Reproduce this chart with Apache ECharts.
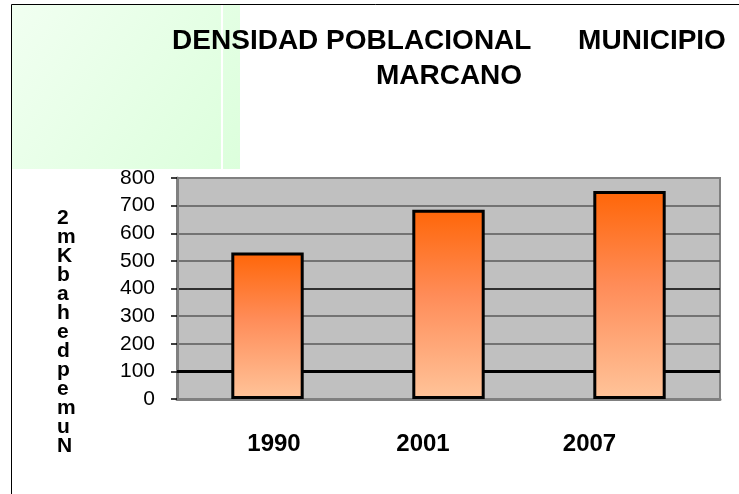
<!DOCTYPE html>
<html>
<head>
<meta charset="utf-8">
<script src="https://cdn.jsdelivr.net/npm/echarts@6/dist/echarts.min.js"></script>
<style>
  html, body { margin: 0; padding: 0; background: #fff; }
  #chart { width: 739px; height: 494px; }
</style>
</head>
<body>
<div id="chart"></div>
<script>
// datos
const years = ['1990', '2001', '2007']
const density = [530, 685, 753]
const yTicks = [0, 100, 200, 300, 400, 500, 600, 700, 800]
const titleLines = ['DENSIDAD POBLACIONAL      MUNICIPIO', 'MARCANO']
// rotulo vertical tal como se ve (letras apiladas, de arriba a abajo)
const yTitleGlyphs = ['2', 'm', 'K', 'b', 'a', 'h', 'e', 'd', 'p', 'e', 'm', 'u', 'N']

const chart = echarts.init(document.getElementById('chart'))

// colores de las lineas de division (0..800)
const splitColors = ['#808080', '#000', '#5a5a5a', '#5a5a5a', '#000', '#5a5a5a', '#5a5a5a', '#5a5a5a', '#808080']
// desplazamientos de las etiquetas del eje x respecto a las barras
const labelPad = {
  '1990': [0, 0, 0, 13],
  '2001': [0, 51, 0, 0],
  '2007': [0, 80, 0, 0]
}

const option = {
  backgroundColor: '#fff',
  animation: false,
  graphic: [
    {
      type: 'rect', z: 0, silent: true,
      shape: { x: 12, y: 5, width: 228, height: 164 },
      style: {
        fill: new echarts.graphic.LinearGradient(0, 0, 1, 1, [
          { offset: 0, color: '#f1fff1' },
          { offset: 1, color: '#dcffdc' }
        ])
      }
    },
    { type: 'rect', z: 1, silent: true, shape: { x: 221, y: 5, width: 2, height: 164 }, style: { fill: '#ffffff' } },
    { type: 'line', z: 5, silent: true, shape: { x1: 11.5, y1: 4.5, x2: 739, y2: 4.5 }, style: { stroke: '#000', lineWidth: 1 } },
    { type: 'line', z: 5, silent: true, shape: { x1: 11.5, y1: 4.5, x2: 11.5, y2: 494 }, style: { stroke: '#000', lineWidth: 1 } },
    {
      type: 'text', z: 5, silent: true,
      style: {
        x: 449, y: 24, text: titleLines.join('\n'),
        align: 'center', verticalAlign: 'top',
        font: 'bold 28px "Liberation Sans", Arial, sans-serif',
        lineHeight: 35, fill: '#000'
      }
    },
    {
      type: 'text', z: 5, silent: true,
      style: {
        x: 57, y: 209,
        text: yTitleGlyphs.join('\n'),
        font: 'bold 21px "Liberation Sans", Arial, sans-serif',
        lineHeight: 19, fill: '#000', align: 'left', verticalAlign: 'top'
      }
    }
  ],
  grid: {
    left: 177, right: 19, top: 178, bottom: 95,
    show: true, backgroundColor: '#c0c0c0', borderColor: '#808080', borderWidth: 2
  },
  xAxis: {
    type: 'category',
    data: years,
    axisLine: { show: true, lineStyle: { color: '#808080', width: 3 } },
    axisTick: { show: false },
    axisLabel: {
      margin: 33,
      formatter: v => `{y${v}|${v}}`,
      rich: Object.fromEntries(years.map(y => [ 'y' + y, {
        fontFamily: '"Liberation Sans", Arial, sans-serif',
        fontWeight: 'bold', fontSize: 24, color: '#000', padding: labelPad[y]
      }]))
    }
  },
  yAxis: {
    type: 'value',
    min: yTicks[0], max: yTicks[yTicks.length - 1], interval: 100,
    axisLine: { show: true, lineStyle: { color: '#808080', width: 3 } },
    axisTick: { show: true, length: 6, lineStyle: { color: '#000', width: 1.5 } },
    axisLabel: {
      margin: 22,
      fontFamily: '"Liberation Sans", Arial, sans-serif',
      fontSize: 21, color: '#000'
    },
    splitLine: { lineStyle: { color: splitColors, width: 1.5 } }
  },
  series: [
    {
      // linea gruesa en 100, por detras de las barras
      type: 'line', data: [], z: 1, silent: true,
      markLine: {
        z: 1,
        silent: true, symbol: 'none', label: { show: false },
        lineStyle: { color: '#000', width: 3, type: 'solid' },
        data: [{ yAxis: 100 }]
      }
    },
    {
      type: 'bar',
      data: density,
      z: 3,
      barWidth: '40%',
      itemStyle: {
        borderColor: '#000', borderWidth: 3,
        color: new echarts.graphic.LinearGradient(0, 0, 0, 1, [
          { offset: 0, color: '#ff6608' },
          { offset: 0.45, color: '#ff8c58' },
          { offset: 1, color: '#ffc49a' }
        ])
      }
    }
  ]
}

chart.setOption(option)
</script>
</body>
</html>
